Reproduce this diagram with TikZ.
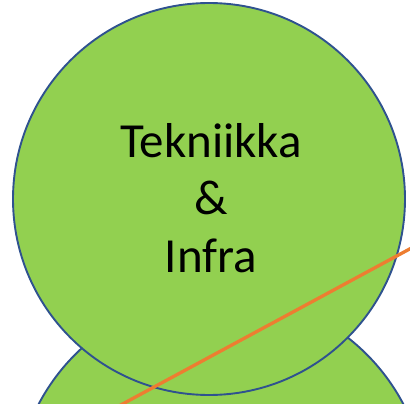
\documentclass[tikz,border=0pt]{standalone}
\usepackage{fontspec}
\setmainfont{Carlito}
\definecolor{fillgreen}{HTML}{92D050}
\definecolor{edgeblue}{HTML}{2F528F}
\definecolor{lineorange}{HTML}{ED7D31}
\begin{document}
\begin{tikzpicture}[x=1pt,y=-1pt,
  bubble/.style={circle,fill=fillgreen,draw=edgeblue,line width=1.9pt,inner sep=0pt},
  slash/.style={draw=lineorange,line width=3.3pt}]
\useasboundingbox (0,0) rectangle (410,404);
\clip (0,0) rectangle (410,404);
\node[bubble,minimum size=412pt] (lower) at (221,500) {};
\node[bubble,minimum size=392pt] (upper) at (209,199) {};
\node[align=center,inner sep=0pt,font=\fontsize{49}{57.5}\selectfont] (label) at (211,198) {Tekniikka\\\&\\Infra};
\coordinate (s1) at (-20,481);
\coordinate (s2) at (430,238);
\draw[slash] (s1) -- (s2);
\end{tikzpicture}
\end{document}
